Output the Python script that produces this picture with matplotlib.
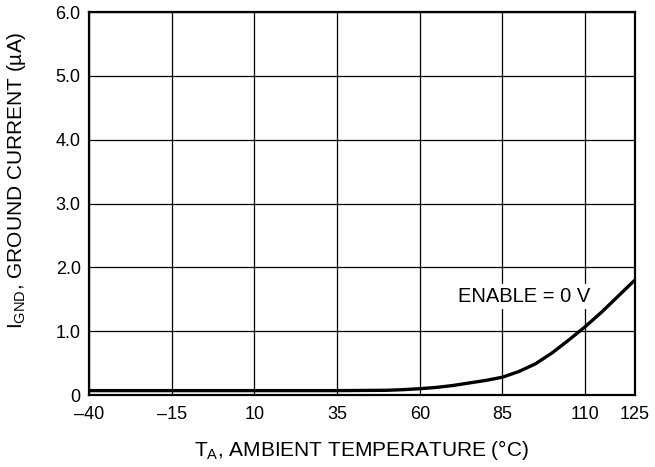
import numpy as np
import matplotlib.pyplot as plt

plt.rcParams['font.family'] = ['Liberation Sans', 'DejaVu Sans']
plt.rcParams['mathtext.default'] = 'regular'

# ground current vs ambient temperature, ENABLE = 0 V
temp = [-40, -15, 10, 35, 50, 55, 60, 65, 70, 75, 80, 85, 90, 95, 100, 105, 110, 115, 120, 125]
i_gnd = [0.07, 0.07, 0.07, 0.07, 0.075, 0.085, 0.10, 0.12, 0.15, 0.19, 0.23, 0.28, 0.37, 0.49, 0.66, 0.86, 1.07, 1.30, 1.55, 1.80]

xticks = [-40, -15, 10, 35, 60, 85, 110, 125]
xtick_labels = ['\u201340', '\u201315', '10', '35', '60', '85', '110', '125']
yticks = [0, 1, 2, 3, 4, 5, 6]
ytick_labels = ['0', '1.0', '2.0', '3.0', '4.0', '5.0', '6.0']

fig = plt.figure(figsize=(6.55, 4.67), dpi=100)
ax = fig.add_axes([0.136, 0.154, 0.833, 0.820])

ax.plot(temp, i_gnd, color='black', linewidth=2.4, solid_capstyle='butt', zorder=3)

ax.set_xlim(-40, 125)
ax.set_ylim(0, 6)
ax.set_xticks(xticks)
ax.set_xticklabels(xtick_labels)
ax.set_yticks(yticks)
ax.set_yticklabels(ytick_labels)
ax.tick_params(length=0, labelsize=13)
ax.tick_params(axis='x', pad=8)
ax.tick_params(axis='y', pad=6)
ax.grid(True, color='black', linewidth=0.9)
for s in ax.spines.values():
    s.set_linewidth(1.6)

ax.text(91.5, 1.54, 'ENABLE = 0 V', fontsize=14.5, ha='center', va='center',
        bbox=dict(facecolor='white', edgecolor='none', pad=2), zorder=2)

ax.set_xlabel(r'T$_{A}$, AMBIENT TEMPERATURE (°C)', fontsize=15, labelpad=11)
ax.set_ylabel(r'I$_{GND}$, GROUND CURRENT (µA)', fontsize=15)
ax.yaxis.set_label_coords(-0.112, 0.56)

fig.savefig('out.png', dpi=100)
